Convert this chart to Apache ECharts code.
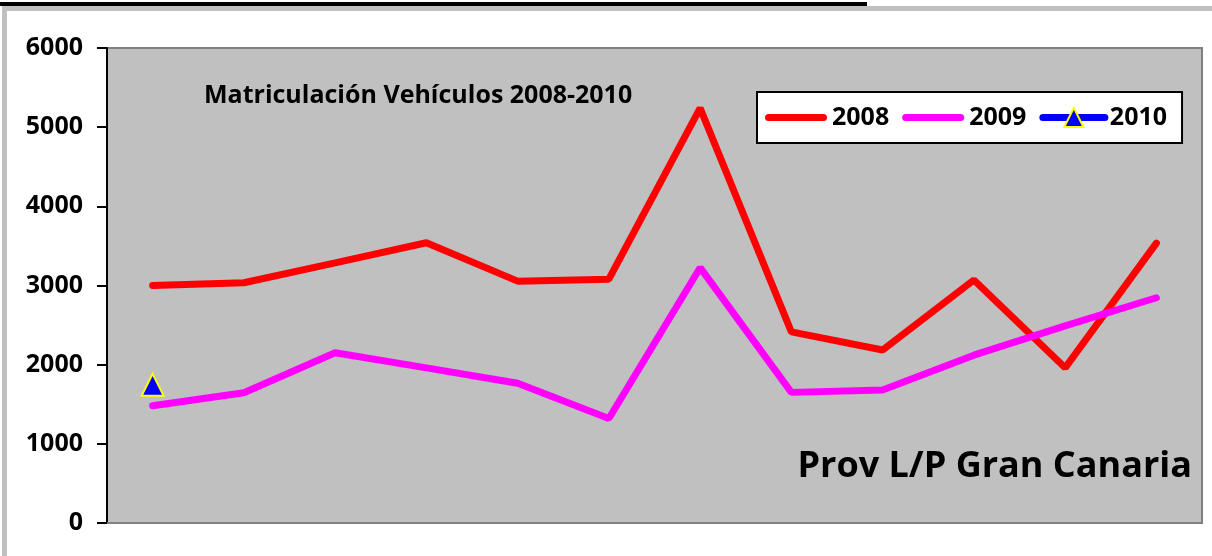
<!DOCTYPE html>
<html>
<head>
<meta charset="utf-8">
<script src="https://cdn.jsdelivr.net/npm/echarts@6/dist/echarts.min.js"></script>
<style>
  html, body { margin: 0; padding: 0; background: #fff; }
  #chart { width: 1212px; height: 556px; }
</style>
</head>
<body>
<div id="chart"></div>
<script>
// meses (sin etiquetas en el eje)
const months = ['Ene', 'Feb', 'Mar', 'Abr', 'May', 'Jun', 'Jul', 'Ago', 'Sep', 'Oct', 'Nov', 'Dic'];
const y2008 = [3000, 3035, 3285, 3540, 3055, 3080, 5240, 2415, 2185, 3070, 1960, 3535];
const y2009 = [1480, 1645, 2150, 1960, 1765, 1320, 3225, 1650, 1680, 2120, 2490, 2845];
const y2010 = [1745];
const yTicks = [0, 1000, 2000, 3000, 4000, 5000, 6000];

const FONT = '"Open Sans", "Noto Sans", sans-serif';
// linea gruesa con extremos redondeados para la leyenda
const LINE_ICON = 'path://M3.5,0 H58.5 A3.5,3.5 0 0 1 58.5,7 H3.5 A3.5,3.5 0 0 1 3.5,0 Z';

const chart = echarts.init(document.getElementById('chart'), null, { renderer: 'canvas' });

const option = {
  animation: false,
  backgroundColor: '#ffffff',
  graphic: [
    // marco exterior recortado
    { type: 'rect', shape: { x: 0, y: 2, width: 867, height: 4 }, style: { fill: '#000' }, z: 0 },
    { type: 'rect', shape: { x: 2, y: 6, width: 1210, height: 5 }, style: { fill: '#c0c0c0' }, z: 0 },
    { type: 'rect', shape: { x: 2, y: 6, width: 5, height: 550 }, style: { fill: '#c0c0c0' }, z: 0 }
  ],
  title: [
    {
      text: 'Matriculación Vehículos 2008-2010',
      left: 204,
      top: 83,
      padding: 0,
      textStyle: { fontFamily: FONT, fontWeight: 'bold', fontSize: 25, color: '#000' }
    },
    {
      text: 'Prov L/P Gran Canaria',
      right: 20,
      top: 449,
      padding: 0,
      textStyle: { fontFamily: FONT, fontWeight: 'bold', fontSize: 36, color: '#000' }
    }
  ],
  legend: {
    data: [
      { name: '2008', icon: LINE_ICON },
      { name: '2009', icon: LINE_ICON },
      { name: '2010' }
    ],
    left: 757,
    top: 92,
    padding: [13, 15, 13, 8],
    itemWidth: 62,
    itemHeight: 24,
    itemGap: 13,
    lineStyle: { width: 7, cap: 'round' },
    backgroundColor: '#fff',
    borderColor: '#000',
    borderWidth: 2,
    borderRadius: 0,
    textStyle: { fontFamily: FONT, fontWeight: 'bold', fontSize: 25, color: '#000' }
  },
  grid: {
    left: 107,
    right: 10,
    top: 48,
    bottom: 33,
    show: true,
    backgroundColor: '#c0c0c0',
    borderColor: '#808080',
    borderWidth: 2
  },
  xAxis: {
    type: 'category',
    data: months,
    boundaryGap: true,
    axisLine: { show: true, lineStyle: { color: '#808080', width: 2 } },
    axisTick: { show: false },
    axisLabel: { show: false },
    splitLine: { show: false }
  },
  yAxis: {
    type: 'value',
    min: yTicks[0],
    max: yTicks[yTicks.length - 1],
    interval: 1000,
    axisLine: { show: true, lineStyle: { color: '#000', width: 2 } },
    axisTick: { show: true, inside: false, length: 10, lineStyle: { color: '#000', width: 2 } },
    axisLabel: {
      margin: 24,
      formatter: v => String(v),
      fontFamily: FONT, fontWeight: 'bold', fontSize: 25, color: '#000'
    },
    splitLine: { show: false }
  },
  series: [
    {
      name: '2008',
      type: 'line',
      data: y2008,
      symbol: 'none',
      color: '#ff0000',
      lineStyle: { color: '#ff0000', width: 7, cap: 'round' }
    },
    {
      name: '2009',
      type: 'line',
      data: y2009,
      symbol: 'none',
      color: '#ff00ff',
      lineStyle: { color: '#ff00ff', width: 7, cap: 'round' }
    },
    {
      name: '2010',
      type: 'line',
      data: y2010,
      symbol: 'triangle',
      symbolSize: 22,
      color: '#0000ff',
      itemStyle: { color: '#0000ff', borderColor: '#ffff00', borderWidth: 2 },
      lineStyle: { color: '#0000ff', width: 7, cap: 'round' }
    }
  ]
};

chart.setOption(option);
</script>
</body>
</html>
